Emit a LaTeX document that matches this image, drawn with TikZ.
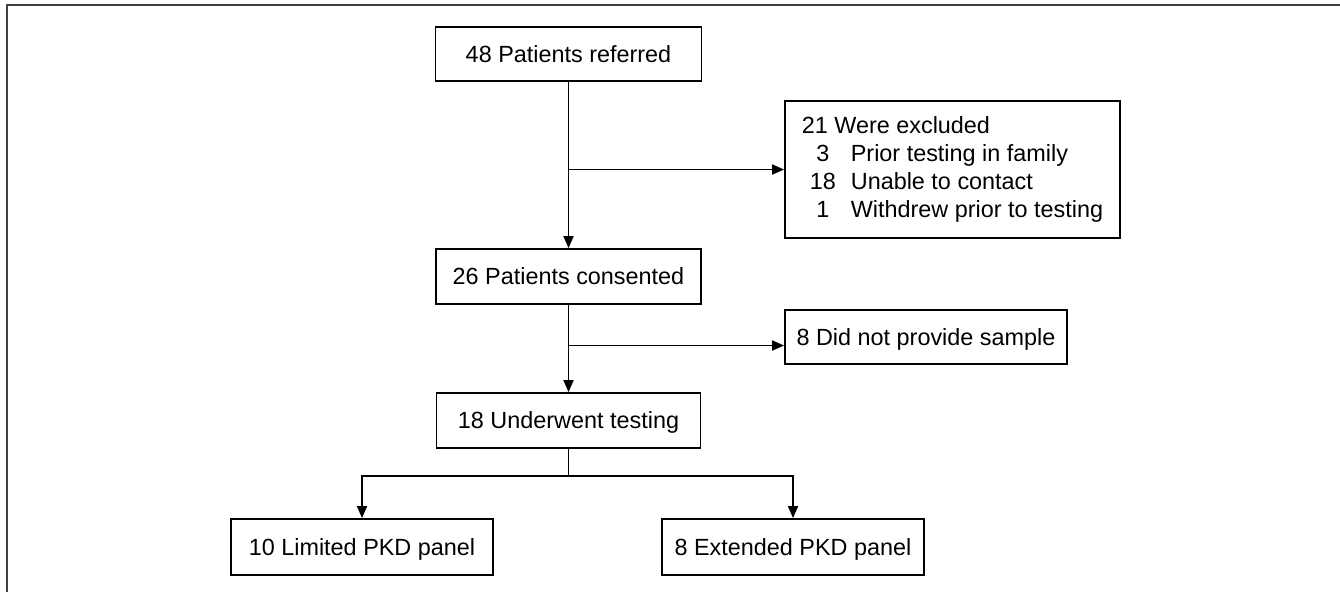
\documentclass[tikz,border=0pt]{standalone}
\usepackage{fontspec}
\setmainfont{Liberation Sans}
\usetikzlibrary{arrows.meta,calc}
\begin{document}
\begin{tikzpicture}[x=1pt,y=-1pt,
  flowbox/.style={draw=black, line width=1.9pt, minimum height=54pt, inner sep=0pt,
    text height=16.6pt, text depth=0pt, font=\fontsize{23.4}{28}\selectfont},
  listbox/.style={draw=black, line width=1.9pt, inner sep=0pt, font=\fontsize{23.4}{28}\selectfont},
  link/.style={line width=1.9pt, draw=black, line join=miter},
  arr/.style={link, -{Triangle[length=12pt,width=10pt]}},
  frameline/.style={draw=black!75, line width=1.6pt}]
\useasboundingbox (0,0) rectangle (1340,592);
\draw[frameline] (7,592) -- (7,5) -- (1340,5);

\node[flowbox, minimum width=266pt] (refer) at (568.5,54) {48 Patients referred};
\node[flowbox, minimum width=265pt, minimum height=55pt] (consent) at (568.5,276.5) {26 Patients consented};
\node[flowbox, minimum width=264pt, minimum height=55pt] (test) at (568.5,420.5) {18 Underwent testing};
\node[flowbox, minimum width=282pt] (nosample) at (926,337) {8 Did not provide sample};
\node[listbox, minimum width=335pt, minimum height=137pt] (excl) at (952.5,169.5)
  {\begin{tabular}{@{\hspace{8pt}}c@{\hspace{15pt}}l@{}}
   \multicolumn{2}{@{}l@{}}{21 Were excluded}\\
   3 & Prior testing in family\\
   18 & Unable to contact\\
   1 & Withdrew prior to testing
   \end{tabular}\hspace{8pt}};
\node[flowbox, minimum width=262pt, minimum height=56pt] (limited) at (362,547) {10 Limited PKD panel};
\node[flowbox, minimum width=262pt, minimum height=56pt] (extended) at (793,547) {8 Extended PKD panel};

\coordinate (b1) at (568.5,169.5);
\coordinate (b2) at (568.5,345.5);
\coordinate (b3) at (568.5,476);

\draw[arr] (refer.south) -- (consent.north);
\draw[arr] (b1) -- (b1 -| excl.west);
\draw[arr] (consent.south) -- (test.north);
\draw[arr] (b2) -- (b2 -| nosample.west);
\draw[link] (test.south) -- (b3);
\draw[arr] (b3) -| (limited.north);
\draw[arr] (b3) -| (extended.north);
\end{tikzpicture}
\end{document}
